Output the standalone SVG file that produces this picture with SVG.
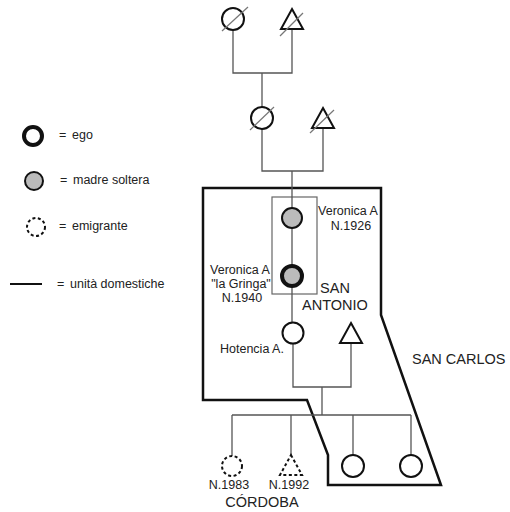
<svg xmlns="http://www.w3.org/2000/svg" width="510" height="512" viewBox="0 0 510 512">
<style>
.ln{stroke:#555;stroke-width:1.3;fill:none}
.sl{stroke:#777;stroke-width:1.2;fill:none}
.sym{fill:#fff;stroke:#111;stroke-width:2}
.grey{fill:#bbb;stroke:#111;stroke-width:2}
.ego{stroke-width:4}
.dash{fill:#fff;stroke:#111;stroke-width:2;stroke-dasharray:3,2.5}
.t{font-family:"Liberation Sans",Arial,sans-serif;font-size:12.5px;fill:#222}
.tb{font-family:"Liberation Sans",Arial,sans-serif;font-size:14.5px;fill:#222}
</style>
<rect width="510" height="512" fill="#fff"/>
<g id="domestic-units">
<polygon points="203,188 381,188 381,315 441,485 328,485 328,455 307,400 203,400" fill="none" stroke="#111" stroke-width="2.5"/>
<rect x="272" y="197" width="45" height="97" fill="none" stroke="#666" stroke-width="1.2"/>
</g>
<g id="connectors">
<polyline class="ln" points="233,30 233,73 292,73 292,29"/>
<line class="ln" x1="262" y1="73" x2="262" y2="107"/>
<polyline class="ln" points="262,129 262,171 323,171 323,128"/>
<line class="ln" x1="292" y1="171" x2="292" y2="322"/>
<polyline class="ln" points="293,344 293,387 351,387 351,343"/>
<line class="ln" x1="322" y1="387" x2="322" y2="415"/>
<line class="ln" x1="232" y1="415" x2="411" y2="415"/>
<line class="ln" x1="232" y1="415" x2="232" y2="456"/>
<line class="ln" x1="291" y1="415" x2="291" y2="455"/>
<line class="ln" x1="353" y1="415" x2="353" y2="455"/>
<line class="ln" x1="411" y1="415" x2="411" y2="455"/>
</g>
<g id="gf1"><circle class="sym" cx="233" cy="19" r="11"/><line class="sl" x1="222" y1="31" x2="248" y2="7"/></g>
<g id="gm1"><polygon class="sym" points="292,9 303,29 281,29"/><line class="sl" x1="280" y1="36" x2="303" y2="13"/></g>
<g id="f2"><circle class="sym" cx="262" cy="118" r="11"/><line class="sl" x1="250" y1="130" x2="274" y2="107"/></g>
<g id="m2"><polygon class="sym" points="323,108 334,128 312,128"/><line class="sl" x1="310" y1="133" x2="334" y2="110"/></g>
<g id="veronica1926"><circle class="grey" cx="292" cy="218" r="10"/>
<text class="t" x="348" y="215" text-anchor="middle">Veronica A</text>
<text class="t" x="351" y="230" text-anchor="middle">N.1926</text></g>
<g id="veronica1940"><circle class="grey ego" cx="292" cy="276" r="10"/>
<text class="t" x="240" y="274" text-anchor="middle">Veronica A</text>
<text class="t" x="241" y="288" text-anchor="middle">"la Gringa"</text>
<text class="t" x="242" y="302" text-anchor="middle">N.1940</text></g>
<g id="hotencia"><circle class="sym" cx="293" cy="333" r="10.5"/>
<text class="t" x="220" y="353">Hotencia A.</text></g>
<g id="husband"><polygon class="sym" points="351,323 362,343 340,343"/></g>
<g id="c1983"><circle class="dash" cx="232" cy="466" r="10"/><text class="t" x="229" y="489" text-anchor="middle">N.1983</text></g>
<g id="c1992"><polygon class="dash" points="291,455 302,475 280,475"/><text class="t" x="289" y="489" text-anchor="middle">N.1992</text></g>
<g id="c3"><circle class="sym" cx="353" cy="466" r="11"/></g>
<g id="c4"><circle class="sym" cx="411" cy="466" r="11"/></g>
<g id="places">
<text class="tb" x="335" y="293" text-anchor="middle">SAN</text>
<text class="tb" x="335" y="310" text-anchor="middle">ANTONIO</text>
<text class="tb" x="412" y="364">SAN CARLOS</text>
<text class="tb" x="262" y="507" text-anchor="middle">CÓRDOBA</text>
</g>
<g id="legend">
<circle class="sym ego" cx="33" cy="136" r="9"/><text class="t" x="59" y="139">=</text><text class="t" x="72" y="139">ego</text>
<circle class="grey" cx="34" cy="181" r="9"/><text class="t" x="60" y="184">=</text><text class="t" x="73" y="184">madre soltera</text>
<circle class="dash" cx="36" cy="227" r="9"/><text class="t" x="59" y="230">=</text><text class="t" x="72" y="230">emigrante</text>
<line x1="10" y1="284" x2="42" y2="284" stroke="#111" stroke-width="2"/><text class="t" x="57" y="288">=</text><text class="t" x="70" y="288">unità domestiche</text>
</g>
</svg>
